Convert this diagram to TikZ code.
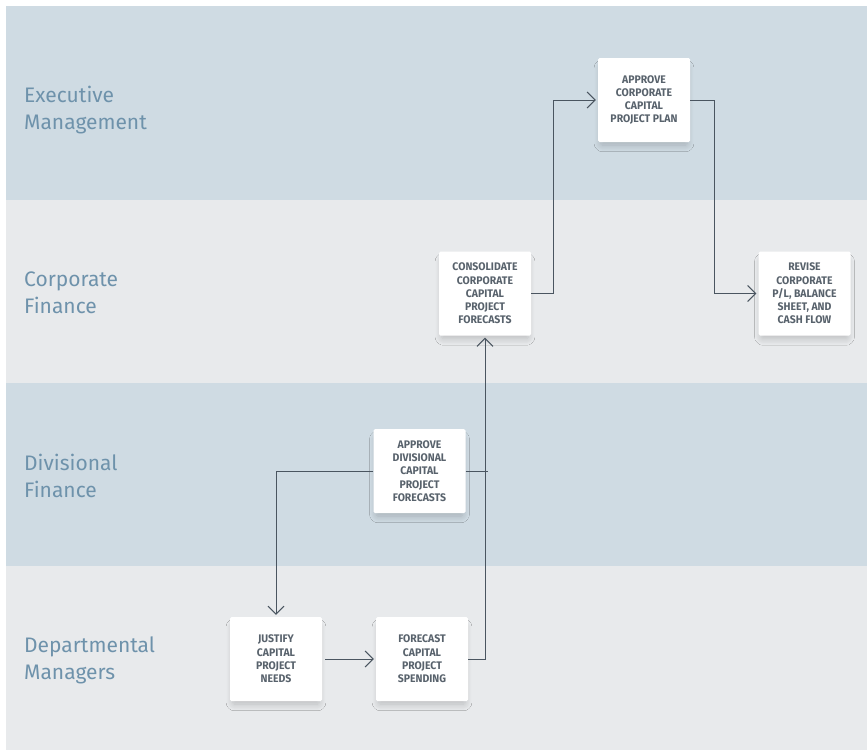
\documentclass[tikz,border=0pt]{standalone}
\usepackage{fontspec}
\usetikzlibrary{arrows.meta,shadows.blur,calc}
\newfontfamily\lanefont{Fira Sans}
\newfontfamily\boxfont[FakeStretch=0.95]{Fira Sans}
\definecolor{laneblue}{RGB}{207,219,227}
\definecolor{lanegray}{RGB}{232,234,236}
\definecolor{lanetext}{RGB}{110,146,171}
\definecolor{boxtext}{RGB}{88,98,108}
\definecolor{linecol}{RGB}{74,85,96}
\begin{document}
\begin{tikzpicture}[x=1pt,y=-1pt,
  lanelabel/.style={anchor=west, align=left, text=lanetext, inner sep=0pt,
    font=\lanefont\fontsize{21}{27}\selectfont},
  stepbox/.style={fill=white, rounded corners=1.5pt, minimum width=92pt,
    minimum height=84pt, inner sep=0pt, align=center, text=boxtext,
    font=\boxfont\bfseries\fontsize{11}{13.3}\selectfont,
    blur shadow={shadow xshift=0pt, shadow yshift=-6pt, shadow scale=0.94,
      shadow blur radius=7pt, shadow blur steps=12, shadow opacity=20}},
  link/.style={draw=linecol, line width=1pt},
  conn/.style={link, -{Straight Barb[length=8pt,width=16pt]}, shorten >=2pt},
]
\useasboundingbox (0,0) rectangle (867,753);
\fill[white] (0,0) rectangle (867,753);
\fill[laneblue] (6,6) rectangle (867,200);
\fill[lanegray] (6,200) rectangle (867,383);
\fill[laneblue] (6,383) rectangle (867,566);
\fill[lanegray] (6,566) rectangle (867,750);

\node[lanelabel] (lexec) at (24,110) {Executive\\Management};
\node[lanelabel] (lcorp) at (24,293) {Corporate\\Finance};
\node[lanelabel] (ldiv) at (24,476) {Divisional\\Finance};
\node[lanelabel] (ldept) at (24,660) {Departmental\\Managers};

\node[stepbox] (apcorp) at (644,100) {APPROVE\\CORPORATE\\CAPITAL\\PROJECT PLAN};
\node[stepbox] (consol) at (485,293.5) {CONSOLIDATE\\CORPORATE\\CAPITAL\\PROJECT\\FORECASTS};
\node[stepbox] (revise) at (804.5,293.5) {REVISE\\CORPORATE\\P/L, BALANCE\\SHEET, AND\\CASH FLOW};
\node[stepbox] (apdiv) at (419.5,471) {APPROVE\\DIVISIONAL\\CAPITAL\\PROJECT\\FORECASTS};
\node[stepbox] (justify) at (276,659) {JUSTIFY\\CAPITAL\\PROJECT\\NEEDS};
\node[stepbox] (forecast) at (422,659) {FORECAST\\CAPITAL\\PROJECT\\SPENDING};

\draw[conn, shorten <=3pt] (justify.east) -- (forecast.west);
\draw[conn] (forecast.east) -| (consol.south);
\draw[conn] (apdiv.west) -| (justify.north);
\coordinate (stubend) at ($(consol.south |- apdiv.east)+(3,0)$);
\draw[link] (apdiv.east) -- (stubend);
\draw[conn] (consol.east) -- ++(22,0) |- (apcorp.west);
\draw[conn] (apcorp.east) -- ++(24,0) |- (revise.west);
\end{tikzpicture}
\end{document}
